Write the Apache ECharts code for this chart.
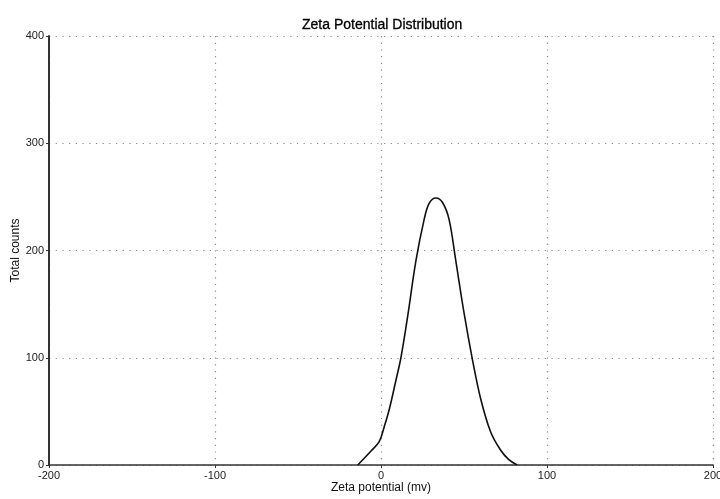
<!DOCTYPE html>
<html>
<head>
<meta charset="utf-8">
<script src="https://cdn.jsdelivr.net/npm/echarts@6/dist/echarts.min.js"></script>
<style>
  html, body { margin: 0; padding: 0; background: #fff; }
  #chart { width: 720px; height: 499px; }
</style>
</head>
<body>
<div id="chart"></div>
<script>
  // zeta potential (mV)
  const zeta = [-14, -6, -1, 2, 5, 9, 12, 16, 21, 26, 29, 33, 37, 41, 45, 50, 55, 60, 66, 72, 77, 82]
  // total counts at each zeta value
  const counts = [0, 13, 22, 36, 52, 79, 100, 138, 190, 229, 244, 249, 245, 229, 191, 142, 99, 62, 31, 14, 5, 0]
  const xTicks = [-200, -100, 0, 100, 200]
  const yTicks = [0, 100, 200, 300, 400]

  const font = 'Liberation Sans, Arial, sans-serif'
  const gridLine = { show: true, lineStyle: { color: '#8a8a8a', width: 1.2, type: [1.2, 5.5] } }

  const chart = echarts.init(document.getElementById('chart'), null, { renderer: 'canvas' })
  chart.setOption({
    animation: false,
    backgroundColor: '#fff',
    title: {
      text: 'Zeta Potential Distribution',
      left: 297,
      top: 13,
      textStyle: { fontFamily: font, fontSize: 14, fontWeight: 'normal', color: '#000', textBorderColor: '#000', textBorderWidth: 0.3 }
    },
    grid: { left: 49, right: 7, top: 36, bottom: 34, outerBoundsMode: 'none' },
    xAxis: {
      type: 'value',
      min: xTicks[0],
      max: xTicks[xTicks.length - 1],
      interval: 100,
      name: 'Zeta potential (mv)',
      nameLocation: 'middle',
      nameGap: 17,
      nameMoveOverlap: false,
      nameTextStyle: { fontFamily: font, fontSize: 12, color: '#111' },
      axisLine: { onZero: false, lineStyle: { color: '#333', width: 1.5 } },
      axisTick: { show: true, length: 3, lineStyle: { color: '#333' } },
      axisLabel: {
        fontFamily: font, fontSize: 11, color: '#222', margin: 5,
        formatter: v => xTicks.includes(v) ? String(v) : ''
      },
      splitLine: gridLine
    },
    yAxis: {
      type: 'value',
      min: yTicks[0],
      max: yTicks[yTicks.length - 1],
      interval: 100,
      name: 'Total counts',
      nameLocation: 'middle',
      nameGap: 27,
      nameMoveOverlap: false,
      nameTextStyle: { fontFamily: font, fontSize: 12, color: '#111' },
      axisLine: { show: true, onZero: false, lineStyle: { color: '#333', width: 2 } },
      axisTick: { show: true, length: 3, lineStyle: { color: '#333' } },
      axisLabel: {
        fontFamily: font, fontSize: 11, color: '#222', margin: 5,
        formatter: v => yTicks.includes(v) ? String(v) : ''
      },
      splitLine: gridLine
    },
    series: [{
      type: 'line',
      data: zeta.map((x, i) => [x, counts[i]]),
      smooth: 0.35,
      symbol: 'none',
      lineStyle: { color: '#111', width: 1.6 }
    }]
  })
</script>
</body>
</html>
